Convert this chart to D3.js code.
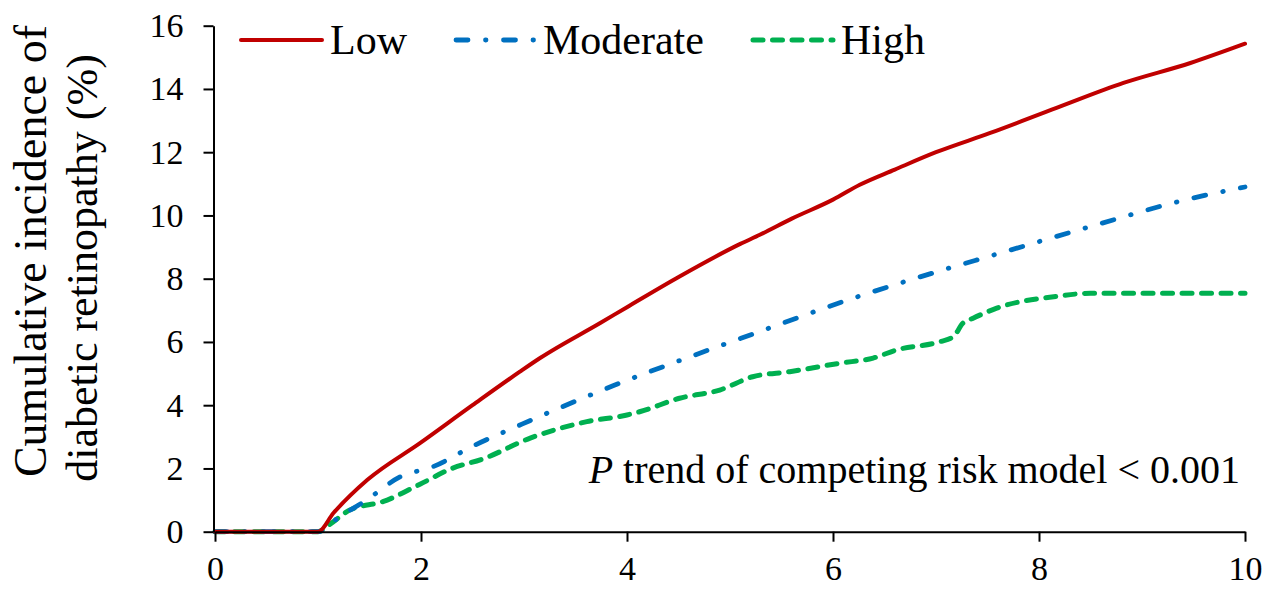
<!DOCTYPE html>
<html>
<head>
<meta charset="utf-8">
<script src="https://cdn.jsdelivr.net/npm/d3@7"></script>
<style>
html,body{margin:0;padding:0;background:#fff;}
svg{display:block;}
svg text{font-family:"Liberation Serif","Times New Roman",Tinos,Times,"DejaVu Serif",serif;}
</style>
</head>
<body>
<svg id="chart" width="1285" height="595"></svg>
<script>
const FONT = "'Liberation Serif', 'Times New Roman', Tinos, Times, 'DejaVu Serif', serif";
const seriesNames = ["Low", "Moderate", "High"];
const seriesColors = ["#C00000", "#0070C0", "#00B050"];
const xTicks = [0, 2, 4, 6, 8, 10];
const yTicks = [0, 2, 4, 6, 8, 10, 12, 14, 16];

const lowX = [0, 1.0, 1.15, 1.48, 1.99, 2.5, 2.96, 3.16, 3.74, 4.0, 4.51, 5.1, 5.29, 5.6, 6.0, 6.26, 6.6, 7.0, 7.52, 8.17, 8.82, 9.47, 10.0];
const lowY = [0, 0, 0.59, 1.64, 2.8, 4.0, 5.06, 5.5, 6.6, 7.1, 8.07, 9.1, 9.39, 9.9, 10.5, 10.97, 11.45, 12.0, 12.6, 13.4, 14.19, 14.82, 15.43];

const modX = [0, 1.0, 1.2, 1.47, 1.8, 2.12, 2.5, 2.98, 3.87, 4.77, 5.23, 6.13, 7.07, 7.54, 8.5, 9.43, 10.0];
const modY = [0, 0, 0.45, 1.0, 1.74, 2.06, 2.7, 3.4, 4.62, 5.72, 6.26, 7.31, 8.28, 8.73, 9.65, 10.5, 10.9];

const highX = [0, 1.0, 1.1, 1.31, 1.63, 1.99, 2.3, 2.6, 3.06, 3.61, 4.0, 4.13, 4.51, 4.9, 5.22, 5.58, 6.07, 6.39, 6.62, 7.04, 7.17, 7.26, 7.36, 7.59, 8.17, 8.5, 10.0];
const highY = [0, 0, 0.2, 0.69, 0.95, 1.5, 2.0, 2.3, 2.96, 3.48, 3.69, 3.8, 4.22, 4.48, 4.9, 5.06, 5.33, 5.49, 5.75, 6.01, 6.17, 6.59, 6.75, 7.07, 7.44, 7.54, 7.54];

const yTitleLines = ["Cumulative incidence of", "diabetic retinopathy (%)"];
const annotation = "trend of competing risk model < 0.001";

const svg = d3.select("#chart");
const x = d3.scaleLinear().domain([0, 10]).range([215, 1245]);
const y = d3.scaleLinear().domain([0, 16]).range([531.7, 25.7]);

const series = [
  {name: seriesNames[0], color: seriesColors[0], xs: lowX, ys: lowY, dash: null, width: 4, cap: "round"},
  {name: seriesNames[1], color: seriesColors[1], xs: modX, ys: modY, dash: "12,17.5,0.5,17.5", width: 4.8, cap: "round"},
  {name: seriesNames[2], color: seriesColors[2], xs: highX, ys: highY, dash: "10,9.5", width: 5, cap: "round"}
];

const line = d3.line().x(d => x(d[0])).y(d => y(d[1])).curve(d3.curveMonotoneX);

[2, 1, 0].forEach(i => {
  const s = series[i];
  const pts = s.xs.map((v, k) => [v, s.ys[k]]);
  svg.append("path")
    .attr("d", line(pts))
    .attr("fill", "none")
    .attr("stroke", s.color)
    .attr("stroke-width", s.width)
    .attr("stroke-linecap", s.cap)
    .attr("stroke-linejoin", "round")
    .attr("stroke-dasharray", s.dash);
});

const xAxis = d3.axisBottom(x).tickValues(xTicks).tickSize(10).tickSizeOuter(0).tickPadding(14).tickFormat(d3.format("d"));
const gx = svg.append("g").attr("transform", `translate(0,${y(0)})`).call(xAxis).attr("font-family", FONT);
gx.select(".domain").attr("stroke", "#000").attr("stroke-width", 2);
gx.selectAll(".tick line").attr("stroke", "#000").attr("stroke-width", 2);
gx.selectAll(".tick text").attr("fill", "#000").attr("font-family", FONT).style("font-size", "34px");

const yAxis = d3.axisLeft(y).tickValues(yTicks).tickSize(10).tickSizeOuter(0).tickPadding(20).tickFormat(d3.format("d"));
const gy = svg.append("g").attr("transform", `translate(${x(0) - 1.5},0)`).call(yAxis).attr("font-family", FONT);
gy.select(".domain").attr("stroke", "#000").attr("stroke-width", 2);
gy.selectAll(".tick line").attr("stroke", "#000").attr("stroke-width", 2);
gy.selectAll(".tick text").attr("fill", "#000").attr("font-family", FONT).style("font-size", "34px");

svg.append("text")
  .attr("transform", "translate(46,251) rotate(-90)")
  .attr("text-anchor", "middle")
  .attr("font-family", FONT)
  .style("font-size", "46px")
  .attr("fill", "#000")
  .text(yTitleLines[0]);
svg.append("text")
  .attr("transform", "translate(97,268) rotate(-90)")
  .attr("text-anchor", "middle")
  .attr("font-family", FONT)
  .style("font-size", "44px")
  .attr("fill", "#000")
  .text(yTitleLines[1]);

const ann = svg.append("text")
  .attr("x", 1240).attr("y", 483)
  .attr("text-anchor", "end")
  .attr("font-family", FONT)
  .style("font-size", "40px")
  .attr("fill", "#000");
ann.append("tspan").style("font-style", "italic").text("P");
ann.append("tspan").text(" " + annotation);

const legendPos = [[241, 322], [456, 535], [753, 833]];
series.forEach((s, i) => {
  const [x1, x2] = legendPos[i];
  svg.append("line")
    .attr("x1", x1).attr("x2", x2).attr("y1", 40).attr("y2", 40)
    .attr("stroke", s.color)
    .attr("stroke-width", s.width)
    .attr("stroke-linecap", s.cap)
    .attr("stroke-dasharray", s.dash);
  svg.append("text")
    .attr("x", x2 + 8).attr("y", 54)
    .attr("font-family", FONT)
    .style("font-size", "42px")
    .attr("fill", "#000")
    .text(s.name);
});
</script>
</body>
</html>
